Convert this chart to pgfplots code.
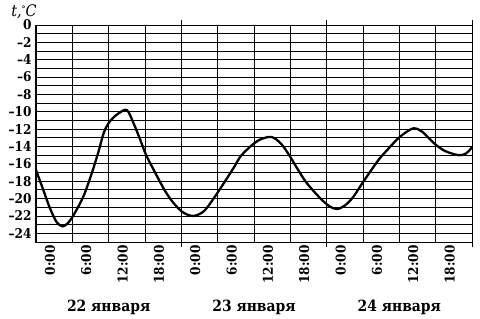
\documentclass[border=0pt]{standalone}
\usepackage{fontspec}
\setmainfont{DejaVu Serif Condensed}
\usepackage{pgfplots}
\pgfplotsset{compat=1.18}
\begin{document}
\begin{tikzpicture}
\useasboundingbox (-36bp,-77bp) rectangle (444bp,242bp);
\begin{axis}[
  at={(0,0)}, anchor=south west,
  width=436bp, height=217bp, scale only axis,
  xmin=0, xmax=72, ymin=-25, ymax=0,
  axis line style={black, line width=1bp},
  xtick={0,6,...,66},
  xticklabels={0:00,6:00,12:00,18:00,0:00,6:00,12:00,18:00,0:00,6:00,12:00,18:00},
  ytick={0,-2,...,-24},
  yticklabels={0,–2,–4,–6,–8,–10,–12,–14,–16,–18,–20,–22,–24},
  minor ytick={-1,-3,...,-25},
  major tick length=0pt, minor tick length=0pt,
  xmajorgrids, ymajorgrids, yminorgrids,
  major grid style={black, line width=0.9bp},
  minor grid style={black, line width=0.9bp},
  tick label style={font=\fontsize{13.5}{13.5}\selectfont\bfseries},
  xticklabel style={rotate=90, anchor=east, yshift=-14bp},
  yticklabel style={xshift=-1bp},
  extra x ticks={24,48,72},
  extra x tick labels={},
  extra x tick style={grid=none, major tick length=5bp, tick align=outside, tick style={black, line width=1bp}},
  clip=false,
]
\addplot[black, line width=2.3bp, smooth, tension=0.5] coordinates {
(0,-16.7) (1.2,-19.0) (2.3,-21.1) (3.4,-22.7) (4.4,-23.2) (5.3,-22.8) (6.2,-21.9)
(7.8,-19.8) (9.2,-17.1) (10.4,-14.4) (11.2,-12.4) (12.2,-11.1) (13.6,-10.2) (15.0,-9.8)
(16.1,-11.3) (17.2,-13.2) (18.2,-15.0) (19.9,-17.3) (21.3,-19.1) (22.7,-20.5) (24.3,-21.6)
(26.0,-22.0) (27.8,-21.4) (29.9,-19.4) (32.6,-16.5) (33.7,-15.2) (35.4,-14.0) (37.0,-13.2)
(38.9,-12.9) (40.5,-13.7) (42.0,-15.2) (43.2,-16.6) (44.7,-18.2) (47.0,-20.0) (48.5,-20.9)
(49.7,-21.2) (51.0,-20.8) (52.4,-19.8) (54.1,-18.0) (56.5,-15.6) (58.0,-14.4) (59.6,-13.2)
(61.0,-12.4) (62.4,-11.9) (63.8,-12.3) (65.7,-13.6) (67.5,-14.5) (69.8,-15.0) (71.0,-14.8)
(72.0,-14.1)
};
\node[font=\fontsize{15.5}{15.5}\selectfont\bfseries] at ([yshift=-65bp]axis cs:12,-25) {22 января};
\node[font=\fontsize{15.5}{15.5}\selectfont\bfseries] at ([yshift=-65bp]axis cs:36,-25) {23 января};
\node[font=\fontsize{15.5}{15.5}\selectfont\bfseries] at ([yshift=-65bp]axis cs:60,-25) {24 января};
\node[font=\fontsize{16}{16}\selectfont\itshape] at ([xshift=-12bp,yshift=13bp]rel axis cs:0,1) {t,\raisebox{0.55ex}{\fontsize{9}{9}\selectfont\upshape°}C};
\end{axis}
\end{tikzpicture}
\end{document}
